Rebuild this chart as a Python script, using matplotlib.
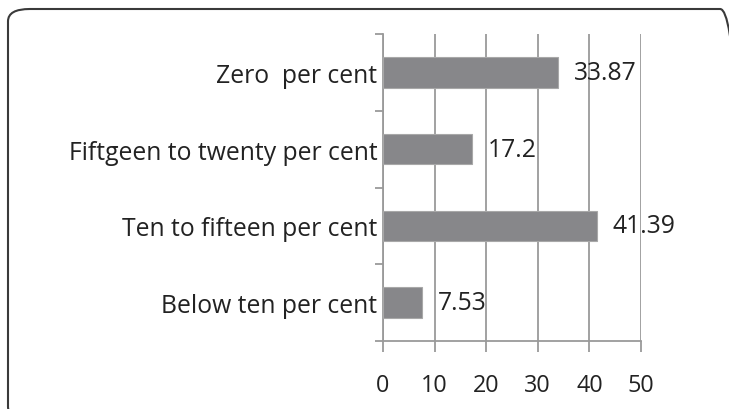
import matplotlib.pyplot as plt
from matplotlib.patches import FancyBboxPatch

categories = ["Below ten per cent", "Ten to fifteen per cent",
              "Fiftgeen to twenty per cent", "Zero  per cent"]
values = [7.53, 41.39, 17.2, 33.87]
value_labels = ["7.53", "41.39", "17.2", "33.87"]
xticks = [0, 10, 20, 30, 40, 50]

plt.rcParams.update({
    "font.family": "Open Sans",
    "font.size": 17.8,
})

W, H = 729, 410
fig = plt.figure(figsize=(W / 100, H / 100), dpi=100)
ax = fig.add_axes([383 / W, 1 - 342 / H, (641 - 383) / W, (342 - 35) / H])

grid_c = "#9a9a9a"
txt_c = "#222222"
ax.barh(range(len(values)), values, height=0.4, color="#87878a",
        edgecolor="#a8a8a8", linewidth=0.8, zorder=3)

for i, (v, lab) in enumerate(zip(values, value_labels)):
    ax.annotate(lab, (v, i), xytext=(16, 0), textcoords="offset pixels",
                ha="left", va="center", color=txt_c, zorder=4)

ax.set_xlim(0, 50)
ax.set_ylim(-0.5, len(values) - 0.5)
ax.set_xticks(xticks)
ax.set_xticklabels([str(t) for t in xticks], color=txt_c, fontsize=16.8)
ax.set_yticks(range(len(values)))
ax.set_yticklabels(categories, color=txt_c)
ax.set_yticks([i - 0.5 for i in range(len(values) + 1)], minor=True)

ax.grid(axis="x", color=grid_c, linewidth=1.3, zorder=0)
ax.tick_params(axis="y", which="major", length=0, pad=4)
ax.tick_params(axis="y", which="minor", length=6, color=grid_c, width=1.3, direction="out")
ax.tick_params(axis="x", length=8, color=grid_c, width=1.3, direction="out", pad=15)

for s in ["top", "right"]:
    ax.spines[s].set_visible(False)
for s in ["left", "bottom"]:
    ax.spines[s].set_color(grid_c)
    ax.spines[s].set_linewidth(1.3)

# rounded frame round the whole chart, partly outside the figure
frame = FancyBboxPatch((8 / W, 1 - 420 / H), (742 - 8) / W, (420 - 10) / H,
                       boxstyle="round,pad=0,rounding_size=0.03",
                       transform=fig.transFigure, fill=False,
                       edgecolor="#3a3a3a", linewidth=1.5)
fig.patches.append(frame)

fig.savefig("out.png", dpi=100)
